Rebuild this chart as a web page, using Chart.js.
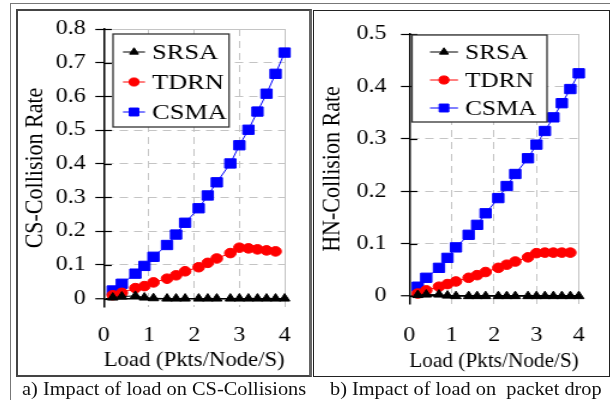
<!DOCTYPE html>
<html>
<head>
<meta charset="utf-8">
<script src="https://cdn.jsdelivr.net/npm/chart.js@4.4.1/dist/chart.umd.min.js"></script>
<style>
  body { margin: 0; background: #fff; }
  #page { position: relative; width: 610px; height: 400px; overflow: hidden; font-family: "Liberation Serif", serif; }
  .line { position: absolute; pointer-events: none; }
  .box { position: absolute; box-sizing: border-box; pointer-events: none; }
  .panel { position: absolute; transform-origin: 0 0; transform: scaleX(1.2); }
  .caption { position: absolute; top: 380px; font-size: 18px; line-height: 18px; white-space: pre; color: #111;
             transform-origin: 0 0; transform: scaleX(1.13); }
</style>
</head>
<body>
<div id="page">
  <div class="line" style="left:10px; top:3px; width:600px; border-top:1.5px solid #777;"></div>
  <div class="line" style="left:10px; top:3px; height:397px; border-left:1.5px solid #777;"></div>

  <div class="panel" style="left:17px; top:9px;"><canvas id="csChart" width="245" height="367"></canvas></div>
  <div class="panel" style="left:313px; top:10px;"><canvas id="hnChart" width="246" height="367"></canvas></div>

  <div class="box" style="left:16px; top:8.5px; width:296px; height:368px; border:2px solid #444; border-right:3px solid #666;"></div>
  <div class="box" style="left:313px; top:9.5px; width:296.5px; height:367.5px; border:1.5px solid #222;"></div>

  <div class="caption" style="left:22px;">a) Impact of load on CS-Collisions</div>
  <div class="caption" style="left:330px;">b) Impact of load on  packet drop</div>
</div>

<script>
// Load values (Pkts/Node/S)
const loads = [0.2, 0.4, 0.7, 0.9, 1.1, 1.4, 1.6, 1.8, 2.1, 2.3, 2.5, 2.8, 3.0, 3.2, 3.4, 3.6, 3.8, 4.0];

// a) CS-Collision rate
const csSRSA = [0.003, 0.006, 0.008, 0.003, 0.001, 0, 0, 0, 0, 0, 0, 0, 0, 0, 0, 0, 0, 0];
const csTDRN = [0.010, 0.017, 0.031, 0.037, 0.048, 0.059, 0.069, 0.081, 0.093, 0.106, 0.119, 0.135, 0.151, 0.149, 0.146, 0.143, 0.140, null];
const csCSMA = [0.024, 0.044, 0.074, 0.097, 0.124, 0.159, 0.190, 0.225, 0.268, 0.306, 0.345, 0.401, 0.455, 0.501, 0.555, 0.608, 0.667, 0.730];

// b) HN-Collision rate
const hnSRSA = [0.002, 0.003, 0.003, 0.001, 0, 0, 0, 0, 0, 0, 0, 0, 0, 0, 0, 0, 0, 0];
const hnTDRN = [0.005, 0.011, 0.018, 0.023, 0.028, 0.035, 0.040, 0.046, 0.054, 0.060, 0.066, 0.074, 0.082, 0.083, 0.083, 0.083, 0.083, null];
const hnCSMA = [0.018, 0.035, 0.054, 0.073, 0.093, 0.117, 0.136, 0.158, 0.187, 0.210, 0.233, 0.263, 0.289, 0.315, 0.341, 0.368, 0.395, 0.425];

const seriesNames = ['SRSA', 'TDRN', 'CSMA'];
const xTicks = [0, 1, 2, 3, 4];

const serif = '"Liberation Serif", "Times New Roman", serif';
const gridGray = '#c4c4c4';

function points(ys) {
    return loads.map((x, i) => ({ x: x, y: ys[i] }));
}

function makeDatasets(srsa, tdrn, csma) {
    return [
        { label: seriesNames[0], data: points(srsa), borderColor: '#000', backgroundColor: '#000',
          pointBackgroundColor: '#000', pointBorderColor: '#000', pointStyle: 'triangle', pointRadius: 5 },
        { label: seriesNames[1], data: points(tdrn), borderColor: '#ff0000', backgroundColor: '#ff0000',
          pointBackgroundColor: '#ff0000', pointBorderColor: '#ff0000', pointStyle: 'circle', pointRadius: 4.8 },
        { label: seriesNames[2], data: points(csma), borderColor: '#0000ff', backgroundColor: '#0000ff',
          pointBackgroundColor: '#0000ff', pointBorderColor: '#0000ff', pointStyle: 'rect', pointRadius: 6.6 }
    ].map(d => Object.assign(d, { borderWidth: 1, pointBorderWidth: 1, showLine: true, clip: false, spanGaps: false }));
}

// legend in a framed box + inner half of the y tick marks
const boxLegend = {
    id: 'boxLegend',
    beforeDatasetsDraw(chart) {
        const ctx = chart.ctx;
        const y = chart.scales.y;
        ctx.save();
        ctx.strokeStyle = '#000';
        ctx.lineWidth = 1.2;
        y.ticks.forEach(t => {
            const py = Math.round(y.getPixelForValue(t.value)) + 0.5;
            ctx.beginPath();
            ctx.moveTo(chart.chartArea.left, py);
            ctx.lineTo(chart.chartArea.left + 6.7, py);
            ctx.stroke();
        });
        ctx.restore();
    },
    afterDraw(chart, args, opts) {
        const ctx = chart.ctx;
        ctx.save();
        ctx.fillStyle = '#fff';
        ctx.fillRect(opts.x, opts.y, opts.w, opts.h);
        ctx.strokeStyle = '#333';
        ctx.lineWidth = 1.3;
        ctx.strokeRect(opts.x, opts.y, opts.w, opts.h);
        ctx.font = opts.size + 'px ' + serif;
        ctx.textBaseline = 'middle';
        ctx.textAlign = 'left';
        chart.data.datasets.forEach((ds, i) => {
            const ly = opts.y0 + i * opts.gap;
            ctx.strokeStyle = ds.borderColor;
            ctx.lineWidth = 1;
            ctx.beginPath();
            ctx.moveTo(opts.lx1, ly);
            ctx.lineTo(opts.lx2, ly);
            ctx.stroke();
            ctx.fillStyle = ds.pointBackgroundColor;
            ctx.strokeStyle = ds.pointBorderColor;
            Chart.helpers.drawPoint(ctx, { pointStyle: ds.pointStyle, radius: ds.pointRadius * 0.85, rotation: 0, borderWidth: 1 },
                (opts.lx1 + opts.lx2) / 2, ly);
            ctx.fillStyle = '#000';
            ctx.fillText(ds.label, opts.tx, ly + 1);
        });
        ctx.restore();
    }
};

function isZero(c) { return c.tick && Math.abs(c.tick.value) < 1e-9; }

function makeChart(id, datasets, cfg) {
    return new Chart(document.getElementById(id), {
        type: 'scatter',
        data: { datasets: datasets },
        plugins: [boxLegend],
        options: {
            responsive: false,
            devicePixelRatio: 1,
            animation: false,
            layout: { padding: { top: cfg.padTop, right: cfg.padRight, left: 0, bottom: 0 } },
            plugins: {
                legend: { display: false },
                tooltip: { enabled: false },
                boxLegend: cfg.legend
            },
            scales: {
                x: {
                    type: 'linear', min: 0, max: 4,
                    afterBuildTicks: s => { s.ticks = xTicks.map(v => ({ value: v })); },
                    afterFit: s => { s.height = cfg.xHeight; },
                    ticks: { padding: cfg.xPad, color: '#000', maxRotation: 0, font: { family: serif, size: 20 } },
                    grid: { color: gridGray, lineWidth: 1, drawTicks: false },
                    border: { display: false, dash: c => (c.tick && c.tick.value === 4) ? [] : [7, 5] },
                    title: { display: true, text: 'Load (Pkts/Node/S)', color: '#000',
                             font: { family: serif, size: 22 }, padding: { top: 0, bottom: 3 } }
                },
                y: {
                    min: cfg.yMin, max: cfg.yMax,
                    afterBuildTicks: s => { s.ticks = s.ticks.filter(t => t.value > -1e-9 && t.value < cfg.yMax + 1e-9); },
                    afterFit: s => { s.width = cfg.yWidth; },
                    ticks: { stepSize: 0.1, includeBounds: false, padding: cfg.yPad, color: '#000',
                             font: { family: serif, size: 20 } },
                    grid: {
                        color: c => isZero(c) ? '#000' : gridGray,
                        lineWidth: c => isZero(c) ? 1.5 : 1,
                        tickLength: 7, tickColor: '#000', tickWidth: 1.2
                    },
                    border: {
                        display: true, color: '#000', width: 1.5,
                        dash: c => (isZero(c) || (c.tick && Math.abs(c.tick.value - cfg.yMax) < 1e-9)) ? [] : [7, 5]
                    },
                    title: { display: true, text: cfg.yTitle, color: '#000',
                             font: { family: serif, size: 22 }, padding: { top: cfg.yTitlePad, bottom: 0 } }
                }
            }
        }
    });
}

makeChart('csChart', makeDatasets(csSRSA, csTDRN, csCSMA), {
    padTop: 18, padRight: 7.75, xHeight: 69, xPad: 17, yWidth: 72.25, yPad: 8,
    yMin: -0.025, yMax: 0.8, yTitle: 'CS-Collision Rate', yTitlePad: 2,
    legend: { x: 80, y: 25, w: 96.7, h: 93, y0: 43, gap: 30, lx1: 88.3, lx2: 106.7, tx: 112.5, size: 22 }
});

makeChart('hnChart', makeDatasets(hnSRSA, hnTDRN, hnCSMA), {
    padTop: 21, padRight: 8.25, xHeight: 73, xPad: 19.5, yWidth: 80.25, yPad: 12,
    yMin: -0.015, yMax: 0.5, yTitle: 'HN-Collision Rate', yTitlePad: 3,
    legend: { x: 82.5, y: 25, w: 112.5, h: 87, y0: 42, gap: 28, lx1: 97.5, lx2: 120.8, tx: 126.7, size: 21 }
});
</script>
</body>
</html>
